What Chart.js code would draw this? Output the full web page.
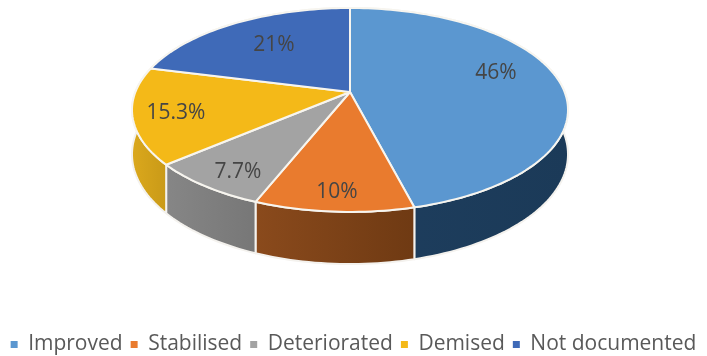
<!DOCTYPE html>
<html>
<head>
<meta charset="utf-8">
<style>
  html, body { margin: 0; padding: 0; background: #fff; }
  #wrap { width: 707px; height: 356px; }
</style>
<script src="https://cdn.jsdelivr.net/npm/chart.js@4"></script>
</head>
<body>
<div id="wrap"><canvas id="myChart" width="707" height="356"></canvas></div>
<script>
// Labels and values
var categories = ["Improved", "Stabilised", "Deteriorated", "Demised", "Not documented"];
var outcomes = [46, 10, 7.7, 15.3, 21];
var sliceLabels = ["46%", "10%", "7.7%", "15.3%", "21%"];

var topColors = ["#5b97d0", "#e97b2e", "#a3a3a3", "#f4b918", "#3f6ab8"];
var sideColors = [["#1e3e5e", "#1b3a58"], ["#8a4a1c", "#6f3a13"], ["#868686", "#777777"], ["#dba81c", "#c99a18"], ["#2a4a80", "#2a4a80"]];
var textColor = "#454545";

// Where the slice labels sit in the picture
var labelSpots = [[496, 73], [337, 192], [238, 172], [176, 113], [274, 45]];

// The tilted pie: a circle pushed through a small perspective
var cx = 350, cy = 92, rx = 214.6, ry = 98.8, tilt = 0.176, thick = 43;

function project(angle, f) {
  // chart.js angle 0 is 3 o'clock, clockwise
  var u = Math.cos(angle) * f, v = Math.sin(angle) * f;
  var d = 1 - tilt * v;
  return { x: cx + rx * u / d, y: cy + ry * v / d, drop: thick / d };
}

function ringPoints(a0, a1) {
  var pts = [], n = Math.max(2, Math.ceil((a1 - a0) * 40));
  for (var i = 0; i <= n; i++) pts.push(project(a0 + (a1 - a0) * i / n, 1));
  return pts;
}

var pie3d = {
  id: "pie3d",
  beforeDatasetsDraw: function (chart) {
    var ctx = chart.ctx;
    var arcs = chart.getDatasetMeta(0).data;
    ctx.save();
    ctx.lineJoin = "round";

    // rim first, the top faces cover whatever is behind them
    arcs.forEach(function (arc, i) {
      var pts = ringPoints(arc.startAngle, arc.endAngle);
      var xs = pts.map(function (p) { return p.x; });
      ctx.beginPath();
      pts.forEach(function (p, k) {
        if (k === 0) ctx.moveTo(p.x, p.y); else ctx.lineTo(p.x, p.y);
      });
      pts.slice().reverse().forEach(function (p) { ctx.lineTo(p.x, p.y + p.drop); });
      ctx.closePath();
      var g = ctx.createLinearGradient(Math.min.apply(null, xs), 0, Math.max.apply(null, xs), 0);
      g.addColorStop(0, sideColors[i][0]);
      g.addColorStop(1, sideColors[i][1]);
      ctx.fillStyle = g;
      ctx.fill();
      ctx.strokeStyle = "#f4f2ee";
      ctx.lineWidth = 2;
      ctx.stroke();
    });

    arcs.forEach(function (arc, i) {
      var pts = ringPoints(arc.startAngle, arc.endAngle);
      ctx.beginPath();
      ctx.moveTo(cx, cy);
      pts.forEach(function (p) { ctx.lineTo(p.x, p.y); });
      ctx.closePath();
      ctx.fillStyle = topColors[i];
      ctx.fill();
      ctx.strokeStyle = "#f7f5ef";
      ctx.lineWidth = 2;
      ctx.stroke();
    });

    ctx.fillStyle = textColor;
    ctx.font = '21px "Open Sans"';
    ctx.textAlign = "center";
    ctx.textBaseline = "middle";
    sliceLabels.forEach(function (t, i) {
      ctx.fillText(t, labelSpots[i][0], labelSpots[i][1]);
    });
    ctx.restore();
    return false;
  }
};

var myChart = new Chart(document.getElementById("myChart"), {
  type: "pie",
  data: {
    labels: categories,
    datasets: [{ data: outcomes, backgroundColor: topColors, borderWidth: 0 }]
  },
  options: {
    responsive: false,
    animation: false,
    events: [],
    rotation: 0,
    layout: { padding: { bottom: -9 } },
    plugins: {
      tooltip: { enabled: false },
      legend: {
        position: "bottom",
        labels: {
          usePointStyle: true,
          pointStyle: "rect",
          boxWidth: 7,
          boxHeight: 7,
          padding: 8,
          color: "#595959",
          font: { family: '"Open Sans"', size: 21 }
        }
      }
    }
  },
  plugins: [pie3d]
});
</script>
</body>
</html>
